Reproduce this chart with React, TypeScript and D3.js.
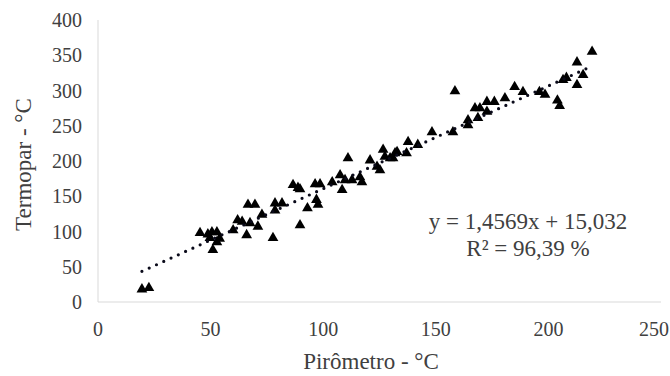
import React from 'react';
import * as d3 from 'd3';

// Pirômetro (°C) vs Termopar (°C)
const pyro = [
  19.5, 22.6, 45.3, 48.8, 49.7, 50.6, 51, 52.8, 52.8, 54,
  60, 62, 64, 66, 66.6, 67.5, 69.7, 71, 72.8, 77.7,
  78.6, 78.6, 81.7, 86.6, 88.8, 89.7, 89.7, 93, 96.4, 97,
  97.7, 98.6, 104, 107.5, 108.4, 109.7, 111, 112.8, 116.3, 117.2,
  120.8, 123.9, 125.2, 126.6, 127.4, 129.7, 131, 131.9, 132.8, 137,
  137.7, 142, 148.3, 157.6, 158.5, 164.3, 164.3, 167.4, 168.7, 169.6,
  172.7, 172.7, 176, 180.7, 185, 188.7, 196, 198.5, 204, 205,
  206.5, 208, 212.7, 215.4, 212.7, 219.4,
];
const termo = [
  18, 20, 98, 96, 91, 99, 74, 99, 85, 90,
  102, 116, 114, 95, 138, 112, 138, 107, 124, 91,
  130, 140, 140, 166, 162, 160, 109, 133, 167, 145,
  138, 167, 170, 180, 159, 173, 204, 173, 177, 170,
  201, 192, 187, 216, 206, 204, 204, 211, 213, 211,
  227, 223, 241, 241, 299, 258, 251, 275, 261, 275,
  284, 270, 284, 289, 305, 298, 298, 294, 286, 278,
  315, 318, 340, 322, 308, 355,
];

const xTicks = [0, 50, 100, 150, 200, 250];
const yTicks = [0, 50, 100, 150, 200, 250, 300, 350, 400];

const slope = 1.4569;
const intercept = 15.032;

const W = 670;
const H = 376;
const font = "'Liberation Serif', 'DejaVu Serif', serif";

export default function App() {
  const x = d3.scaleLinear().domain([0, 250]).range([98, 661]);
  const y = d3.scaleLinear().domain([0, 400]).range([302, 20]);

  const pts = pyro.map((p, i) => ({ p, t: termo[i] }));
  const [x0, x1] = d3.extent(pyro) as [number, number];
  const trend = d3.line<number>()
    .x((d) => x(d))
    .y((d) => y(slope * d + intercept));

  const tri = d3.symbol().type(d3.symbolTriangle).size(50)();

  return (
    <>
      <style>{'body{margin:0}'}</style>
      <svg width={W} height={H} style={{ display: 'block', background: '#fff' }}>
        <line x1={x(0)} x2={x(0)} y1={y(400)} y2={y(0)} stroke="#d9d9d9" strokeWidth={1} />
        <line x1={x(0)} x2={x(250)} y1={y(0)} y2={y(0)} stroke="#d9d9d9" strokeWidth={1} />

        {yTicks.map((t) => (
          <text key={'y' + t} x={82} y={y(t)} dy="0.35em" textAnchor="end"
            fontFamily={font} fontSize={20} fill="#404040">{t}</text>
        ))}
        {xTicks.map((t, i) => {
          const last = i === xTicks.length - 1;
          return (
            <text key={'x' + t} x={last ? 669 : x(t)} y={336} textAnchor={last ? 'end' : 'middle'}
              fontFamily={font} fontSize={20} fill="#404040">{t}</text>
          );
        })}

        <text x={371} y={369} textAnchor="middle" fontFamily={font} fontSize={23} fill="#404040">
          Pirômetro - °C
        </text>
        <text transform={`translate(31,${y(195)}) rotate(-90)`} textAnchor="middle"
          fontFamily={font} fontSize={23} fill="#404040">
          Termopar - °C
        </text>

        {pts.map((d, i) => (
          <path key={i} d={tri!} transform={`translate(${x(d.p)},${y(d.t)})`} fill="#000" />
        ))}

        <path d={trend([x0, x1])!} fill="none" stroke="#0a0a1a" strokeWidth={3.2}
          strokeDasharray="0 8" strokeLinecap="round" />

        <text x={528} y={229} textAnchor="middle" fontFamily={font} fontSize={23} fill="#404040">
          y = 1,4569x + 15,032
        </text>
        <text x={528} y={256} textAnchor="middle" fontFamily={font} fontSize={23} fill="#404040">
          R² = 96,39 %
        </text>
      </svg>
    </>
  );
}
